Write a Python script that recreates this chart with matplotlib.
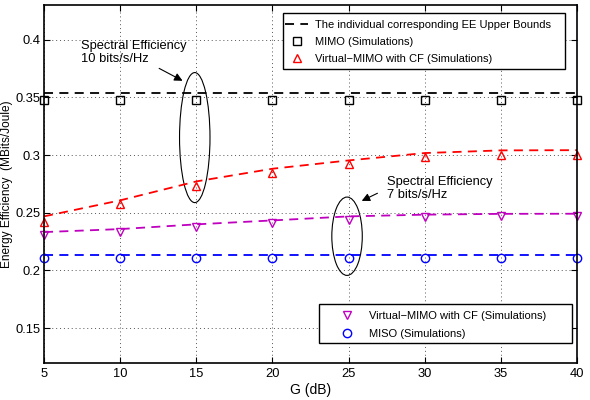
import matplotlib
matplotlib.use("Agg")
import matplotlib.pyplot as plt
from matplotlib.patches import Ellipse, Rectangle
from matplotlib.lines import Line2D
from matplotlib.legend_handler import HandlerLine2D

plt.rcParams['font.family'] = ['Liberation Sans', 'DejaVu Sans']

# ---- data ----
G = [5, 10, 15, 20, 25, 30, 35, 40]
mimo_bound = [0.3535] * 8
mimo_sim = [0.348] * 8
vmimo10_bound = [0.2468, 0.2607, 0.2771, 0.2881, 0.2953, 0.3017, 0.3040, 0.3042]
vmimo10_sim = [0.2419, 0.2572, 0.2734, 0.2841, 0.2919, 0.2980, 0.2999, 0.2999]
vmimo7_bound = [0.2332, 0.2358, 0.2399, 0.2433, 0.2468, 0.2483, 0.2490, 0.2491]
vmimo7_sim = [0.2309, 0.2332, 0.2375, 0.2410, 0.2439, 0.2462, 0.2471, 0.2471]
miso_bound = [0.2136] * 8
miso_sim = [0.2110] * 8
xticks = [5, 10, 15, 20, 25, 30, 35, 40]
yticks = [0.15, 0.2, 0.25, 0.3, 0.35, 0.4]
ytick_labels = ['0.15', '0.2', '0.25', '0.3', '0.35', '0.4']

RED = '#ff0000'
MAG = '#bf00bf'
BLUE = '#0000ff'

W, H = 590, 400
fig = plt.figure(figsize=(5.9, 4.0), dpi=100)
ax = fig.add_axes([44/W, 1-362.7/H, (577-44)/W, (362.7-5)/H])

dash = (0, (5, 3.5))
lw = 1.3
ax.plot(G, mimo_bound, color='k', linestyle=dash, lw=lw)
ax.plot(G, vmimo10_bound, color=RED, linestyle=dash, lw=lw)
ax.plot(G, vmimo7_bound, color=MAG, linestyle=dash, lw=lw)
ax.plot(G, miso_bound, color=BLUE, linestyle=dash, lw=lw)

ms = 6
ax.plot(G, mimo_sim, 's', mfc='none', mec='k', ms=ms, mew=1.0, clip_on=False)
ax.plot(G, vmimo10_sim, '^', mfc='none', mec=RED, ms=ms, mew=1.0, clip_on=False)
ax.plot(G, vmimo7_sim, 'v', mfc='none', mec=MAG, ms=ms, mew=1.0, clip_on=False)
ax.plot(G, miso_sim, 'o', mfc='none', mec=BLUE, ms=ms, mew=1.0, clip_on=False)

ax.set_xlim(5, 40)
ax.set_ylim(0.12, 0.43)
ax.set_xticks(xticks)
ax.set_yticks(yticks)
ax.set_yticklabels(ytick_labels)
ax.tick_params(direction='in', top=True, right=True, labelsize=9.3, length=4, width=0.8, pad=4)
ax.tick_params(axis='y', pad=2.5)
ax.grid(True, linestyle=(0, (1, 3)), color='#555555', lw=0.7)
for s in ax.spines.values():
    s.set_linewidth(1.2)

ax.set_xlabel('G (dB)', fontsize=10, labelpad=2)
ax.set_ylabel('Energy Efficiency  (MBits/Joule)', fontsize=8.6)
ax.yaxis.label.set_va('center')
ax.yaxis.set_label_coords(-0.0685, 0.5)

# ellipses
ax.add_patch(Ellipse((14.9, 0.3151), 2.0, 0.1127, fill=False, ec='k', lw=0.8))
ax.add_patch(Ellipse((24.9, 0.2296), 2.0, 0.0679, fill=False, ec='k', lw=0.8))

# annotations
ax.annotate('', xy=(14.26, 0.3632), xytext=(12.40, 0.3762),
            arrowprops=dict(arrowstyle='-|>', color='k', lw=0.8, mutation_scale=12))
ax.text(7.45, 0.3995, 'Spectral Efficiency\n10 bits/s/Hz', fontsize=9.3, ha='left', va='top', linespacing=1.05)
ax.annotate('', xy=(25.70, 0.2592), xytext=(27.06, 0.2679),
            arrowprops=dict(arrowstyle='-|>', color='k', lw=0.8, mutation_scale=12))
ax.text(27.5, 0.2815, 'Spectral Efficiency\n7 bits/s/Hz', fontsize=9.3, ha='left', va='top', linespacing=1.05)


class LeftMarker(HandlerLine2D):
    def get_xdata(self, legend, xdescent, ydescent, width, height, fontsize):
        return [-xdescent, -xdescent + width], [-xdescent + 0.12 * width]


# legend frames (wide MATLAB-style boxes), drawn inside the axes below the legends
ax.add_patch(Rectangle((283/W, 1-69/H), (565-283)/W, (69-13)/H, transform=fig.transFigure,
                       fill=True, fc='white', ec='k', lw=1.0, zorder=4, clip_on=False))
ax.add_patch(Rectangle((319/W, 1-343/H), (572-319)/W, (343-304)/H, transform=fig.transFigure,
                       fill=True, fc='white', ec='k', lw=1.0, zorder=4, clip_on=False))

h1 = [Line2D([], [], color='k', linestyle=dash, lw=lw),
      Line2D([], [], marker='s', ls='none', mfc='none', mec='k', ms=ms, mew=1.0),
      Line2D([], [], marker='^', ls='none', mfc='none', mec=RED, ms=ms, mew=1.0)]
l1 = ax.legend(h1, ['The individual corresponding EE Upper Bounds', 'MIMO (Simulations)',
                    'Virtual\u2212MIMO with CF (Simulations)'],
               loc='upper left', bbox_to_anchor=(285/W, 1-19.5/H), bbox_transform=fig.transFigure,
               fontsize=8, frameon=False, handlelength=2.07, handletextpad=0.63,
               borderpad=0, labelspacing=0.64, borderaxespad=0,
               handler_map={h1[1]: LeftMarker(), h1[2]: LeftMarker()})
l1.set_zorder(5)
ax.add_artist(l1)

h2 = [Line2D([], [], marker='v', ls='none', mfc='none', mec=MAG, ms=ms, mew=1.0),
      Line2D([], [], marker='o', ls='none', mfc='none', mec=BLUE, ms=ms, mew=1.0)]
l2 = ax.legend(h2, ['Virtual\u2212MIMO with CF (Simulations)', 'MISO (Simulations)'],
               loc='upper left', bbox_to_anchor=(335/W, 1-311/H), bbox_transform=fig.transFigure,
               fontsize=8, frameon=False, handlelength=2.1, handletextpad=1.0,
               borderpad=0, labelspacing=0.75, borderaxespad=0)
l2.set_zorder(5)

fig.savefig('out.png', dpi=100)
